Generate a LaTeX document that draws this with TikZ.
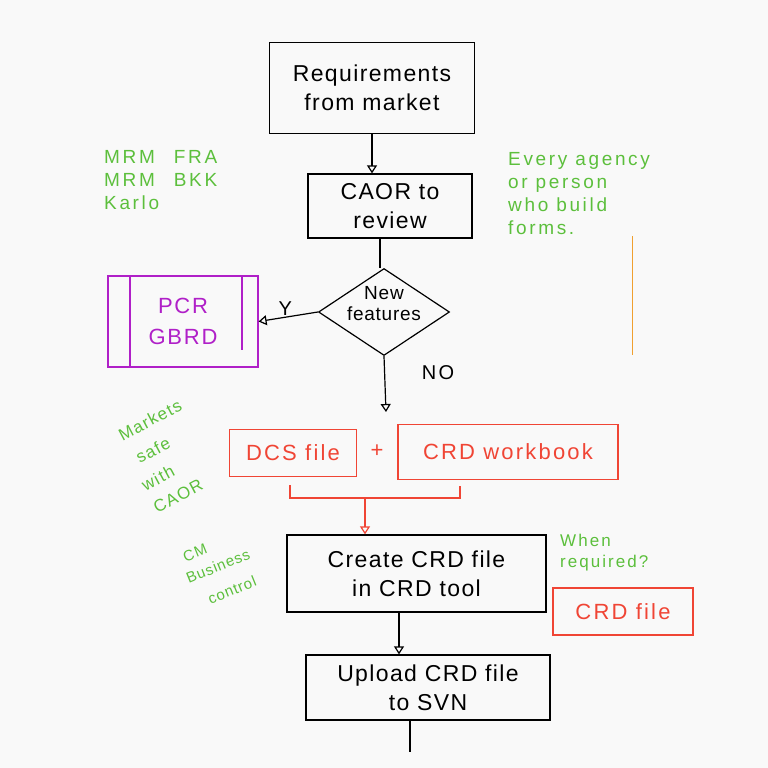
\documentclass[tikz,border=0pt]{standalone}
\usepackage{fontspec}
\setmainfont{Liberation Sans}
\usetikzlibrary{shapes.geometric,arrows.meta}
\definecolor{bgcol}{HTML}{F9F9F9}
\definecolor{notegreen}{HTML}{5CBF3C}
\definecolor{inkred}{HTML}{F04535}
\definecolor{inkpurple}{HTML}{B020C8}
\definecolor{inkorange}{HTML}{F0A030}
\newcommand{\spaced}[1]{\addfontfeature{LetterSpace=#1}}
\begin{document}
\begin{tikzpicture}[x=1pt,y=-1pt,
  box/.style={draw=black, line width=1.3pt, inner sep=0pt, align=center, font=\fontsize{23}{29}\selectfont\spaced{6}},
  redbox/.style={draw=inkred, line width=1.2pt, inner sep=0pt, align=center, text=inkred, font=\fontsize{22}{27}\selectfont\spaced{10}},
  note/.style={text=notegreen, align=left, font=\fontsize{19}{23}\selectfont\spaced{14}, inner sep=0pt},
  rnote/.style={text=notegreen, font=\fontsize{17}{19}\selectfont\spaced{8}, inner sep=0pt},
  flow/.style={line width=1.2pt, -{Triangle[open, length=8pt, width=10pt]}},
  plain/.style={line width=1.2pt},
  lbl/.style={font=\fontsize{20}{24}\selectfont, inner sep=0pt}]
\fill[bgcol] (0,0) rectangle (768,768);
\useasboundingbox (0,0) rectangle (768,768);

% main boxes
\node[box, minimum width=205pt, minimum height=91pt] (req) at (372,88) {Requirements\\from market};
\node[box, minimum width=164pt, minimum height=64pt] (caor) at (390,206) {CAOR to\\review};
\node[draw=black, line width=1.2pt, shape=diamond, minimum width=131pt, minimum height=87pt, inner sep=0pt] (dia) at (384,312) {};
\node[lbl, align=center, font=\fontsize{19}{21}\selectfont\spaced{4}] (diat) at (384,304) {New\\features};

% PCR box (predefined process style)
\node[draw=inkpurple, line width=1.2pt, minimum width=150pt, minimum height=91pt, inner sep=0pt, text=inkpurple, align=center, font=\fontsize{22}{31}\selectfont\spaced{8}] (pcr) at (183,321.5) {PCR\\GBRD};
\coordinate (pl1) at (130,276);
\coordinate (pl2) at (130,367);
\coordinate (pr1) at (242,276);
\coordinate (pr2) at (242,350);
\draw[inkpurple, line width=1.2pt] (pl1) -- (pl2);
\draw[inkpurple, line width=1.2pt] (pr1) -- (pr2);

% red boxes
\node[redbox, minimum width=127pt, minimum height=47pt] (dcs) at (293,453) {DCS file};
\node[text=inkred, font=\fontsize{22}{24}\selectfont, inner sep=0pt] (plus) at (377,451) {+};
\node[redbox, minimum width=220pt, minimum height=55pt] (wb) at (508,452) {CRD workbook};
\coordinate (br1) at (290,485);
\coordinate (br2) at (290,498);
\coordinate (br3) at (460,498);
\coordinate (br4) at (460,486);
\draw[inkred, line width=1.2pt] (br1) -- (br2) -- (br3) -- (br4);
\coordinate (brm) at (365,499);

\node[box, minimum width=259pt, minimum height=77pt] (create) at (416.5,573.5) {Create CRD file\\in CRD tool};
\node[redbox, minimum width=140pt, minimum height=47pt] (crdf) at (623,611.5) {CRD file};
\node[box, minimum width=244pt, minimum height=65pt] (upload) at (428,687.5) {Upload CRD file\\to SVN};
\coordinate (endl) at (410,752);

% connectors
\draw[flow] (req.south -| 372,0) -- (caor.north -| 372,0);
\draw[plain] (caor.south -| 380,0) -- (380,268);
\draw[flow] (dia.west) -- (pcr.east) node[lbl, pos=0.55, above=1pt] (y) {Y};
\coordinate (noend) at (386,412);
\draw[flow] (dia.south) -- (noend);
\node[lbl, font=\fontsize{20}{24}\selectfont\spaced{12}] (no) at (438,373) {NO};
\draw[inkred, flow] (brm) -- (create.north -| brm);
\draw[flow] (create.south -| 399,0) -- (upload.north -| 399,0);
\draw[plain] (upload.south -| endl) -- (endl);

% notes
\node[note, anchor=north west] (mrm) at (104,150) {MRM\quad FRA\\MRM\quad BKK\\Karlo};
\node[note, anchor=north west] (every) at (508,152) {Every agency\\or person\\who build\\forms.};
\coordinate (or1) at (632,236);
\coordinate (or2) at (632,355);
\draw[inkorange, line width=1pt] (or1) -- (or2);
\node[rnote, rotate=28] (mk1) at (150,420) {Markets};
\node[rnote, rotate=28] (mk2) at (153,450) {safe};
\node[rnote, rotate=28] (mk3) at (158,478) {with};
\node[rnote, rotate=28] (mk4) at (178,496) {CAOR};
\node[rnote, rotate=22, font=\fontsize{15}{17}\selectfont\spaced{6}] (cm1) at (195,553) {CM};
\node[rnote, rotate=22, font=\fontsize{15}{17}\selectfont\spaced{6}] (cm2) at (218,566) {Business};
\node[rnote, rotate=22, font=\fontsize{15}{17}\selectfont\spaced{6}] (cm3) at (232,590) {control};
\node[note, anchor=north west, font=\fontsize{17}{21}\selectfont\spaced{12}] (when) at (560,534) {When\\required?};
\end{tikzpicture}
\end{document}
